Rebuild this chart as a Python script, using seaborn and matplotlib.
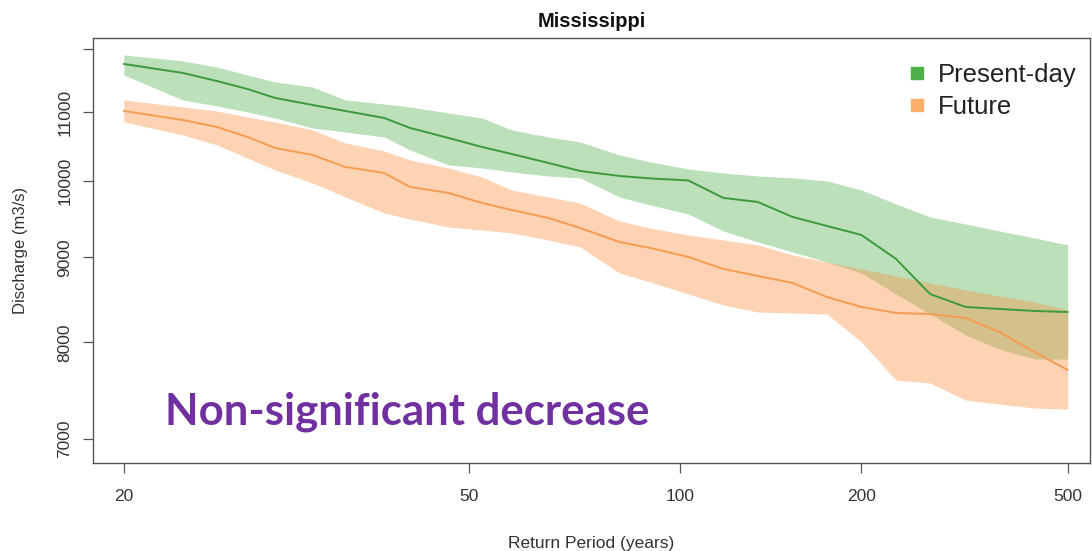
import numpy as np
import pandas as pd
import matplotlib
matplotlib.use("Agg")
import matplotlib.pyplot as plt
from matplotlib.lines import Line2D
from matplotlib.ticker import NullLocator, FixedLocator, FixedFormatter
import seaborn as sns

# ---------------- data ----------------
return_period = [20, 23, 25, 27, 29, 32, 35, 39, 42, 47, 52, 57, 64, 71, 81, 90,
                 103, 117, 133, 152, 174, 200, 231, 267, 312, 363, 427, 500]

present_mid = [11754, 11609, 11481, 11355, 11215, 11107, 11015, 10909, 10760, 10612,
               10481, 10380, 10252, 10139, 10069, 10035, 10007, 9768, 9714, 9515,
               9397, 9281, 8978, 8554, 8402, 8379, 8356, 8344]
present_hi = [11901, 11803, 11705, 11577, 11465, 11387, 11184, 11122, 11076, 10985,
              10909, 10730, 10627, 10554, 10366, 10266, 10167, 10111, 10069, 10042,
              10000, 9876, 9687, 9515, 9423, 9333, 9243, 9154]
present_lo = [11577, 11184, 11092, 11000, 10909, 10760, 10700, 10627, 10437, 10224,
              10181, 10125, 10069, 10042, 9781, 9674, 9554, 9333, 9192, 9066,
              8941, 8806, 8554, 8321, 8083, 7928, 7819, 7819]

future_mid = [11015, 10879, 10775, 10627, 10466, 10366, 10195, 10111, 9917, 9836,
              9701, 9607, 9502, 9371, 9192, 9116, 9003, 8855, 8770, 8685,
              8519, 8402, 8333, 8321, 8275, 8117, 7895, 7701]
future_hi = [11184, 11076, 11015, 10924, 10849, 10730, 10539, 10423, 10294, 10181,
             10055, 9876, 9781, 9701, 9462, 9371, 9281, 9217, 9154, 9028,
             8941, 8855, 8770, 8685, 8602, 8531, 8460, 8367]
future_lo = [10849, 10656, 10510, 10323, 10153, 9972, 9781, 9567, 9488, 9384,
             9345, 9307, 9217, 9128, 8806, 8697, 8554, 8425, 8344, 8333,
             8321, 8005, 7595, 7564, 7388, 7347, 7307, 7297]

series_names = ["Present-day", "Future"]
x_ticks = [20, 50, 100, 200, 500]
x_tick_labels = ["20", "50", "100", "200", "500"]
y_ticks = [7000, 8000, 9000, 10000, 11000, 12000]
y_tick_labels = ["7000", "8000", "9000", "10000", "11000", ""]

title = "Mississippi"
x_label = "Return Period (years)"
y_label = "Discharge (m3/s)"
note = "Non-significant decrease"

# ---------------- style ----------------
sns.set_theme(style="ticks")
plt.rcParams["font.family"] = ["Liberation Sans", "DejaVu Sans"]

green_band = "#4daf4a"
green_line = "#3c9a3c"
orange_band = "#fd8d3c"
orange_line = "#f59c50"
frame_col = "#555555"
text_col = "#333333"

fig = plt.figure(figsize=(10.92, 5.51), dpi=100)
W, H = 1092, 551
ax = fig.add_axes([93 / W, 1 - 463 / H, (1090 - 93) / W, (463 - 38) / H])

df = pd.DataFrame({
    "T": return_period * 2,
    "Q": present_mid + future_mid,
    "series": [series_names[0]] * len(return_period) + [series_names[1]] * len(return_period),
})

ax.fill_between(return_period, present_lo, present_hi, color=green_band, alpha=0.38,
                linewidth=0, zorder=1)
ax.fill_between(return_period, future_lo, future_hi, color=orange_band, alpha=0.38,
                linewidth=0, zorder=1)
sns.lineplot(data=df, x="T", y="Q", hue="series",
             palette={series_names[0]: green_line, series_names[1]: orange_line},
             linewidth=1.4, ax=ax, legend=False, zorder=3)

def fwd(x):
    x = np.asarray(x, dtype=float)
    with np.errstate(all="ignore"):
        return np.log(np.log(np.clip(x, 1.0001, None)))

def inv(v):
    return np.exp(np.exp(np.asarray(v, dtype=float)))

ax.set_xscale("function", functions=(fwd, inv))
ax.set_yscale("log")
ax.set_xlim(18.64, 557)
ax.set_ylim(6773, 12183)

ax.xaxis.set_major_locator(FixedLocator(x_ticks))
ax.xaxis.set_major_formatter(FixedFormatter(x_tick_labels))
ax.xaxis.set_minor_locator(NullLocator())
ax.yaxis.set_major_locator(FixedLocator(y_ticks))
ax.yaxis.set_major_formatter(FixedFormatter(y_tick_labels))
ax.yaxis.set_minor_locator(NullLocator())

for s in ax.spines.values():
    s.set_color(frame_col)
    s.set_linewidth(1.0)
ax.tick_params(axis="both", length=7, width=0.9, color=frame_col,
               labelcolor=text_col, labelsize=12.5)
ax.tick_params(axis="x", pad=12)
ax.tick_params(axis="y", pad=8)
for lab in ax.get_yticklabels():
    lab.set_rotation(90)
    lab.set_va("center")

ax.set_xlabel(x_label, fontsize=12.5, color=text_col, labelpad=23)
ax.set_ylabel(y_label, fontsize=12, color=text_col, labelpad=21)
ax.set_title(title, fontsize=14.5, fontweight="bold", color="#111111", pad=8)

handles = [Line2D([], [], marker="s", linestyle="", color=green_band, markersize=8),
           Line2D([], [], marker="s", linestyle="", color="#fdae6b", markersize=8)]
ax.legend(handles, series_names, loc="upper left", bbox_to_anchor=(894 / W, 1 - 53 / H),
          bbox_transform=fig.transFigure, frameon=False, fontsize=18.5,
          handletextpad=0.3, labelspacing=0.3, borderaxespad=0, handlelength=1.0,
          labelcolor="#222222")

fig.text(165 / W, 1 - 425 / H, note, fontsize=31.5, fontweight="bold", color="#7030A0",
         family=["Lato", "DejaVu Sans"], ha="left", va="baseline")

fig.savefig("out.png", dpi=100, facecolor="white")
